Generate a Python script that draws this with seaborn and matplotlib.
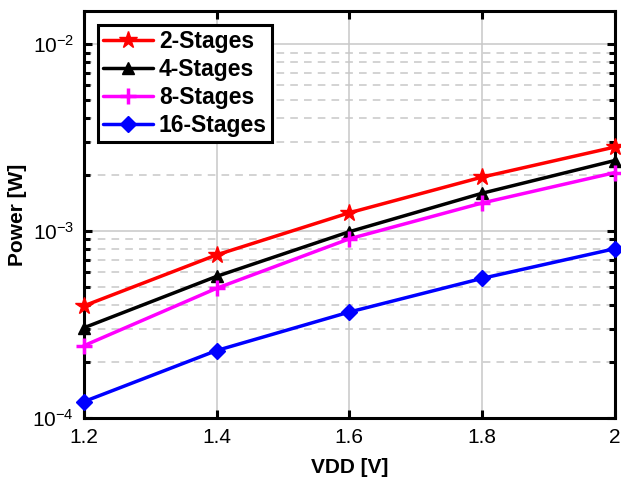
import numpy as np
import pandas as pd
import matplotlib
matplotlib.use("Agg")
import matplotlib.pyplot as plt
import seaborn as sns

# --- data ---
vdd = [1.2, 1.4, 1.6, 1.8, 2.0]
p_2 = [3.97e-4, 7.44e-4, 1.25e-3, 1.94e-3, 2.81e-3]
p_4 = [3.03e-4, 5.71e-4, 9.9e-4, 1.59e-3, 2.38e-3]
p_8 = [2.43e-4, 4.93e-4, 9.07e-4, 1.41e-3, 2.05e-3]
p_16 = [1.22e-4, 2.29e-4, 3.68e-4, 5.57e-4, 8.03e-4]
labels = ["2-Stages", "4-Stages", "8-Stages", "16-Stages"]
x_ticks = [1.2, 1.4, 1.6, 1.8, 2.0]
x_tick_labels = ["1.2", "1.4", "1.6", "1.8", "2"]

colors = ["#ff0000", "#000000", "#ff00ff", "#0000ff"]
markers = ["*", "^", "+", "D"]
msizes = [13, 9, 12, 8]

sns.set_style("white")
plt.rcParams["font.family"] = ["Liberation Sans", "DejaVu Sans"]
plt.rcParams["text.color"] = "black"
plt.rcParams["axes.labelcolor"] = "black"

fig = plt.figure(figsize=(6.21, 4.83), dpi=100)
ax = fig.add_axes([0.135, 0.135, 0.855, 0.842])

for vals, lab, c, m, ms in zip([p_2, p_4, p_8, p_16], labels, colors, markers, msizes):
    df = pd.DataFrame({"VDD": vdd, "P": vals})
    sns.lineplot(data=df, x="VDD", y="P", ax=ax, color=c, marker=m, markersize=ms,
                 markeredgewidth=2.5 if m == "+" else 1, markeredgecolor=c,
                 linewidth=2.5, label=lab, clip_on=False, zorder=3)

ax.set_yscale("log")
ax.set_xlim(1.2, 2.0)
ax.set_ylim(1e-4, 10 ** -1.824)
ax.set_xticks(x_ticks)
ax.set_xticklabels(x_tick_labels)

ax.grid(True, which="major", color="#c8c8c8", linewidth=1.1, linestyle="-")
ax.grid(True, which="minor", axis="y", color="#c8c8c8", linewidth=1.1, linestyle=(0, (5, 4)))
ax.set_axisbelow(True)

for s in ax.spines.values():
    s.set_linewidth(2.2)
    s.set_color("black")
ax.tick_params(which="both", direction="in", top=True, right=True, left=True, bottom=True,
               width=2.2, labelsize=15, colors="black", pad=7)
ax.tick_params(which="major", length=6)
ax.tick_params(which="minor", length=4)

ax.set_xlabel("VDD [V]", fontsize=15, fontweight="bold", labelpad=8, color="black")
ax.set_ylabel("Power [W]", fontsize=15, fontweight="bold", labelpad=4, color="black")

leg = ax.legend(loc="upper left", bbox_to_anchor=(0.0, 1.0), borderaxespad=0.6,
                prop={"weight": "bold", "size": 16.5}, frameon=True, fancybox=False,
                handlelength=2.2, handletextpad=0.25, labelspacing=0.22, borderpad=0.22)
leg.get_frame().set_edgecolor("black")
leg.get_frame().set_linewidth(2.2)
leg.get_frame().set_alpha(1)
for t in leg.get_texts():
    t.set_color("black")

fig.savefig("out.png", dpi=100)
